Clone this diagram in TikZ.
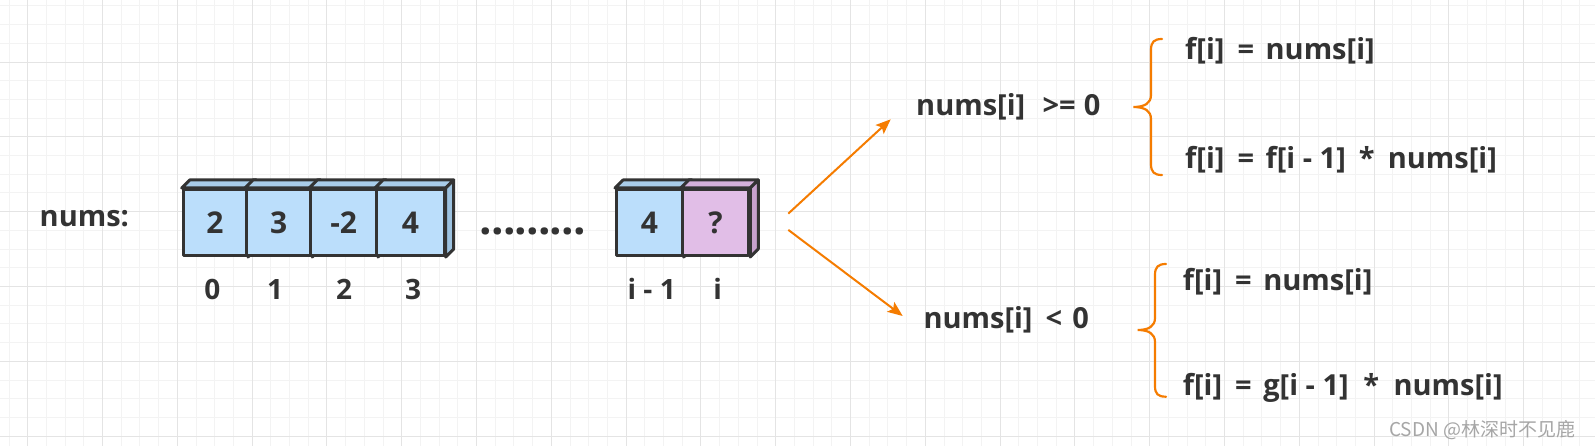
\documentclass[tikz,border=0pt]{standalone}
\usepackage{fontspec}
\setmainfont{Open Sans}
\newfontfamily\cjkfont{Noto Sans CJK SC}
\usetikzlibrary{arrows.meta}
\definecolor{txt}{HTML}{333333}
\definecolor{org}{RGB}{245,124,0}
\definecolor{bfront}{HTML}{BBDEFB}
\definecolor{btop}{HTML}{A9CCE9}
\definecolor{bside}{HTML}{9DC2E0}
\definecolor{pfront}{HTML}{E1BEE7}
\definecolor{ptop}{HTML}{D4B0DA}
\definecolor{pside}{HTML}{C8A2CE}
\definecolor{gminor}{HTML}{F3F3F3}
\definecolor{gmajor}{HTML}{E4E4E4}
\definecolor{wm}{HTML}{A6A6A6}
\newcommand\dotbox{\makebox[11.7pt]{.}}
\newcommand\gap[1]{\hspace{#1em}}
\tikzset{
  cellfront/.style={draw=txt, line width=3pt, line join=round, minimum height=66pt, inner sep=0pt,
    anchor=north west, font=\bfseries\fontsize{30}{32}\selectfont, text=txt},
  cellline/.style={draw=txt, line width=3pt, line join=round},
  lbl/.style={font=\bfseries\fontsize{29}{34}\selectfont, text=txt, inner sep=0pt, anchor=base west},
  idx/.style={font=\bfseries\fontsize{28}{34}\selectfont, text=txt, inner sep=0pt, anchor=base},
  arr/.style={draw=org, line width=2pt, -{Stealth[length=15pt,width=12pt,inset=3pt]}},
  bracepath/.style={draw=org, line width=2.2pt, line cap=round}
}
\begin{document}
\begin{tikzpicture}[x=1pt,y=-1pt]
\useasboundingbox[fill=white] (0,0) rectangle (1595,446);
% grid
\foreach \i in {0,...,85} \draw[gminor, line width=1pt] ({9+18.7*\i},0) -- ({9+18.7*\i},446);
\foreach \i in {0,...,23} \draw[gminor, line width=1pt] (0,{6+18.7*\i}) -- (1595,{6+18.7*\i});
\foreach \i in {0,...,21} \draw[gmajor, line width=1pt] ({27.7+74.8*\i},0) -- ({27.7+74.8*\i},446);
\foreach \i in {0,...,5} \draw[gmajor, line width=1pt] (0,{62.1+74.8*\i}) -- (1595,{62.1+74.8*\i});

% label
\node[lbl] (numslbl) at (39.5,226.7) {nums:};

% cells group 1
\node[cellfront, fill=bfront, minimum width=63.3pt] (c0) at (181.7,188) {2};
\draw[cellline, fill=btop] (c0.north west) -- ++(8,-8) -- ([shift={(8,-8)}]c0.north east) -- (c0.north east) -- cycle;
\draw[cellline, fill=bside] (c0.north east) -- ++(8,-8) -- ([shift={(8,-8)}]c0.south east) -- (c0.south east) -- cycle;
\node[cellfront, fill=bfront, minimum width=64.3pt] (c1) at (245,188) {3};
\draw[cellline, fill=btop] (c1.north west) -- ++(8,-8) -- ([shift={(8,-8)}]c1.north east) -- (c1.north east) -- cycle;
\draw[cellline, fill=bside] (c1.north east) -- ++(8,-8) -- ([shift={(8,-8)}]c1.south east) -- (c1.south east) -- cycle;
\node[cellfront, fill=bfront, minimum width=65.7pt] (c2) at (309.3,188) {-2};
\draw[cellline, fill=btop] (c2.north west) -- ++(8,-8) -- ([shift={(8,-8)}]c2.north east) -- (c2.north east) -- cycle;
\draw[cellline, fill=bside] (c2.north east) -- ++(8,-8) -- ([shift={(8,-8)}]c2.south east) -- (c2.south east) -- cycle;
\node[cellfront, fill=bfront, minimum width=67.7pt] (c3) at (375,188) {4};
\draw[cellline, fill=btop] (c3.north west) -- ++(8,-8) -- ([shift={(8,-8)}]c3.north east) -- (c3.north east) -- cycle;
\draw[cellline, fill=bside] (c3.north east) -- ++(8,-8) -- ([shift={(8,-8)}]c3.south east) -- (c3.south east) -- cycle;

% dots
\node[font=\bfseries\fontsize{44}{44}\selectfont, text=txt, inner sep=0pt, anchor=base west] (dots) at (479.85,234.5) {\dotbox\dotbox\dotbox\dotbox\dotbox\dotbox\dotbox\dotbox\dotbox};

% cells group 2
\node[cellfront, fill=bfront, minimum width=65.7pt] (c4) at (615,188) {4};
\draw[cellline, fill=btop] (c4.north west) -- ++(8,-8) -- ([shift={(8,-8)}]c4.north east) -- (c4.north east) -- cycle;
\draw[cellline, fill=bside] (c4.north east) -- ++(8,-8) -- ([shift={(8,-8)}]c4.south east) -- (c4.south east) -- cycle;
\node[cellfront, fill=pfront, minimum width=66.6pt] (c5) at (680.7,188) {?};
\draw[cellline, fill=ptop] (c5.north west) -- ++(8,-8) -- ([shift={(8,-8)}]c5.north east) -- (c5.north east) -- cycle;
\draw[cellline, fill=pside] (c5.north east) -- ++(8,-8) -- ([shift={(8,-8)}]c5.south east) -- (c5.south east) -- cycle;

% indices
\node[idx] (i0) at (212.3,299.3) {0};
\node[idx] (i1) at (275,299.3) {1};
\node[idx] (i2) at (344,299.3) {2};
\node[idx] (i3) at (413,299.3) {3};
\node[idx] (i4) at (651.7,299.3) {i - 1};
\node[idx] (i5) at (717.7,299.3) {i};

% conditions
\node[lbl] (cond1) at (916,116) {nums[i]\gap{0.6}>=\gap{0.28}0};
\node[lbl] (cond2) at (923.3,328.3) {nums[i]\gap{0.45}<\gap{0.35}0};

% arrows
\coordinate (a1s) at (788.3,213.6);
\coordinate (a1e) at (890.7,119.3);
\coordinate (a2s) at (788.3,229.9);
\coordinate (a2e) at (902.7,316);
\draw[arr] (a1s) -- (a1e);
\draw[arr] (a2s) -- (a2e);

% braces
\draw[bracepath] (1162,39) .. controls (1154,39) and (1151,42) .. (1151,50) -- (1151,95)
  .. controls (1151,103) and (1145,107) .. (1133.3,107)
  .. controls (1145,107) and (1151,111) .. (1151,119) -- (1151,164)
  .. controls (1151,172) and (1154,175) .. (1162,175);
\draw[bracepath] (1166,264) .. controls (1158,264) and (1155,267) .. (1155,275) -- (1155,318)
  .. controls (1155,326) and (1149,330) .. (1137.7,330)
  .. controls (1149,330) and (1155,334) .. (1155,342) -- (1155,386)
  .. controls (1155,394) and (1158,396.7) .. (1166,396.7);

% results
\node[lbl] (r1) at (1185,59.3) {f[i]\gap{0.45}=\gap{0.4}nums[i]};
\node[lbl] (r2) at (1185,168.3) {f[i]\gap{0.45}=\gap{0.4}f[i - 1]\gap{0.45}*\gap{0.45}nums[i]};
\node[lbl] (r3) at (1182.7,290.7) {f[i]\gap{0.45}=\gap{0.4}nums[i]};
\node[lbl] (r4) at (1182.7,395) {f[i]\gap{0.45}=\gap{0.4}g[i - 1]\gap{0.5}*\gap{0.5}nums[i]};

% watermark
\node[font=\cjkfont\fontsize{19}{19}\selectfont, text=wm, inner sep=0pt, anchor=base west] (wmk) at (1389,436) {CSDN @林深时不见鹿};
\end{tikzpicture}
\end{document}
